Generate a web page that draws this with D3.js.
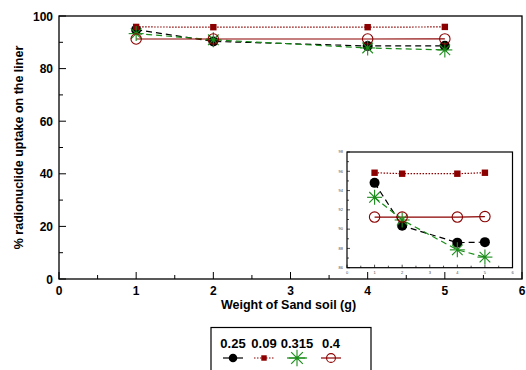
<!DOCTYPE html>
<html>
<head>
<meta charset="utf-8">
<script src="https://cdn.jsdelivr.net/npm/d3@7"></script>
<style>
  body { margin: 0; background: #fff; }
  svg { font-family: "Liberation Sans", Arial, sans-serif; }
  .tick-lbl { font-size: 12px; font-weight: bold; }
  .title { font-size: 12.5px; font-weight: bold; }
  .leg { font-size: 13px; font-weight: bold; }
</style>
</head>
<body>
<div id="chart"></div>
<script>
const weights = [1, 2, 4, 5];
const seriesNames = ["0.25", "0.09", "0.315", "0.4"];
const uptake025 = [94.8, 90.35, 88.6, 88.65];
const uptake009 = [95.85, 95.75, 95.75, 95.85];
const uptake0315 = [93.3, 90.95, 87.85, 87.1];
const uptake04 = [91.25, 91.25, 91.25, 91.3];
const xTicks = [0, 1, 2, 3, 4, 5, 6];
const yTicks = [0, 20, 40, 60, 80, 100];
const insetYTicks = [86, 88, 90, 92, 94, 96, 98];

const series = [
  { name: seriesNames[0], values: uptake025, color: "#000", dash: "6,4", marker: "dot" },
  { name: seriesNames[1], values: uptake009, color: "#8b0000", dash: "1.5,1.5", marker: "square" },
  { name: seriesNames[2], values: uptake0315, color: "#1a8c1a", dash: "6,4", marker: "star" },
  { name: seriesNames[3], values: uptake04, color: "#8b0000", dash: null, marker: "ring" }
];

const svg = d3.select("#chart").append("svg")
  .attr("width", 526).attr("height", 370);

function drawMarker(g, type, color, x, y, s) {
  if (type === "dot") {
    g.append("circle").attr("cx", x).attr("cy", y).attr("r", 5 * s).attr("fill", color);
  } else if (type === "square") {
    g.append("rect").attr("x", x - 3.2 * s).attr("y", y - 3.2 * s)
      .attr("width", 6.4 * s).attr("height", 6.4 * s).attr("fill", color);
  } else if (type === "star") {
    const r = 7.5 * s;
    for (let k = 0; k < 4; k++) {
      const a = k * Math.PI / 4;
      g.append("line")
        .attr("x1", x - r * Math.cos(a)).attr("y1", y - r * Math.sin(a))
        .attr("x2", x + r * Math.cos(a)).attr("y2", y + r * Math.sin(a))
        .attr("stroke", color).attr("stroke-width", 1.1);
    }
    g.append("circle").attr("cx", x).attr("cy", y).attr("r", 1.5 * s).attr("fill", color);
  } else if (type === "ring") {
    g.append("circle").attr("cx", x).attr("cy", y).attr("r", 5.2 * s)
      .attr("fill", "none").attr("stroke", color).attr("stroke-width", 1.1);
  }
}

function drawSeries(g, x, y, s) {
  series.forEach(d => {
    const line = d3.line().x((v, i) => x(weights[i])).y(v => y(v));
    g.append("path").datum(d.values)
      .attr("d", line)
      .attr("fill", "none")
      .attr("stroke", d.color)
      .attr("stroke-width", 1.2)
      .attr("stroke-dasharray", d.dash);
  });
  series.forEach(d => {
    d.values.forEach((v, i) => drawMarker(g, d.marker, d.color, x(weights[i]), y(v), s));
  });
}

// main plot
const main = { left: 59, right: 522, top: 16, bottom: 279 };
const x = d3.scaleLinear().domain([0, 6]).range([main.left, main.right]);
const y = d3.scaleLinear().domain([0, 100]).range([main.bottom, main.top]);

const mg = svg.append("g");
mg.append("rect").attr("x", main.left).attr("y", main.top)
  .attr("width", main.right - main.left).attr("height", main.bottom - main.top)
  .attr("fill", "none").attr("stroke", "#000").attr("stroke-width", 1.3);

d3.range(0, 6.01, 0.5).forEach(t => {
  mg.append("line").attr("x1", x(t)).attr("x2", x(t))
    .attr("y1", main.bottom).attr("y2", main.bottom - (t % 1 === 0 ? 7 : 4))
    .attr("stroke", "#000");
});
d3.range(0, 100.1, 10).forEach(t => {
  mg.append("line").attr("x1", main.left).attr("x2", main.left + (t % 20 === 0 ? 7 : 4))
    .attr("y1", y(t)).attr("y2", y(t)).attr("stroke", "#000");
});
mg.selectAll(".xl").data(xTicks).enter().append("text")
  .attr("class", "tick-lbl").attr("x", d => x(d)).attr("y", main.bottom + 16)
  .attr("text-anchor", "middle").text(d => d);
mg.selectAll(".yl").data(yTicks).enter().append("text")
  .attr("class", "tick-lbl").attr("x", main.left - 6).attr("y", d => y(d) + 4.5)
  .attr("text-anchor", "end").text(d => d);

svg.append("text").attr("class", "title")
  .attr("x", (main.left + main.right) / 2 - 2).attr("y", 309)
  .attr("text-anchor", "middle").text("Weight of Sand soil (g)");
svg.append("text").attr("class", "title")
  .attr("transform", `translate(23,${(main.top + main.bottom) / 2}) rotate(-90)`)
  .attr("text-anchor", "middle").text("% radionuclide uptake on the liner");

drawSeries(mg, x, y, 1);

// inset
const ins = { left: 347, right: 512.5, top: 152, bottom: 267.7 };
const ix = d3.scaleLinear().domain([0, 6]).range([ins.left, ins.right]);
const iy = d3.scaleLinear().domain([86, 98]).range([ins.bottom, ins.top]);
const ig = svg.append("g");
ig.append("rect").attr("x", ins.left).attr("y", ins.top)
  .attr("width", ins.right - ins.left).attr("height", ins.bottom - ins.top)
  .attr("fill", "#fff").attr("stroke", "#000").attr("stroke-width", 1.2);
d3.range(0, 6.01, 0.5).forEach(t => {
  ig.append("line").attr("x1", ix(t)).attr("x2", ix(t))
    .attr("y1", ins.bottom).attr("y2", ins.bottom - (t % 1 === 0 ? 3 : 2))
    .attr("stroke", "#000").attr("stroke-width", 0.7);
});
d3.range(86, 98.01, 1).forEach(t => {
  ig.append("line").attr("x1", ins.left).attr("x2", ins.left + (t % 2 === 0 ? 3 : 2))
    .attr("y1", iy(t)).attr("y2", iy(t)).attr("stroke", "#000").attr("stroke-width", 0.7);
});
ig.selectAll(".ixl").data(xTicks).enter().append("text")
  .attr("x", d => ix(d)).attr("y", ins.bottom + 6)
  .attr("text-anchor", "middle").attr("font-size", 4).attr("fill", "#444").text(d => d);
ig.selectAll(".iyl").data(insetYTicks).enter().append("text")
  .attr("x", ins.left - 4).attr("y", d => iy(d) + 1.3)
  .attr("text-anchor", "end").attr("font-size", 4).attr("fill", "#444").text(d => d);
drawSeries(ig, ix, iy, 1);

// legend
const lg = svg.append("g");
lg.append("rect").attr("x", 211).attr("y", 327.5).attr("width", 160).attr("height", 50)
  .attr("fill", "#fff").attr("stroke", "#000").attr("stroke-width", 1.2);
const legX = [233, 264, 297, 331];
series.forEach((d, i) => {
  lg.append("text").attr("class", "leg").attr("x", legX[i]).attr("y", 348)
    .attr("text-anchor", "middle").text(d.name);
  lg.append("line").attr("x1", legX[i] - 10).attr("x2", legX[i] + 10)
    .attr("y1", 358).attr("y2", 358).attr("stroke", d.color).attr("stroke-width", 1.2)
    .attr("stroke-dasharray", d.marker === "square" ? "1.5,1.5" : null);
  drawMarker(lg, d.marker, d.color, legX[i], 358, d.marker === "star" ? 1.1 : 0.85);
});
</script>
</body>
</html>
